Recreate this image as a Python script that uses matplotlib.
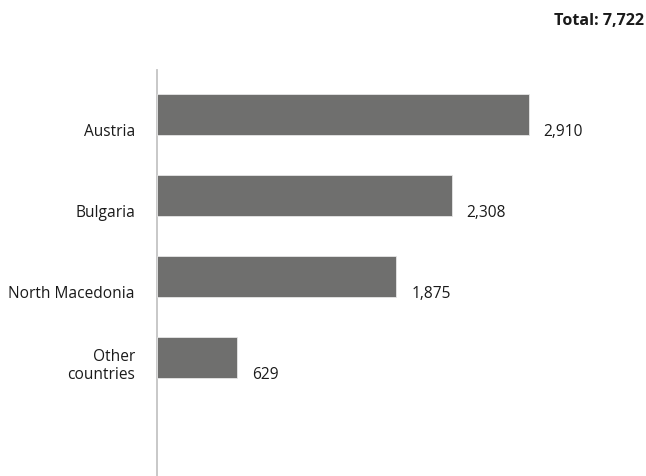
import matplotlib
matplotlib.use("Agg")
import matplotlib.pyplot as plt

categories = ["Austria", "Bulgaria", "North Macedonia", "Other\ncountries"]
values = [2910, 2308, 1875, 629]
value_labels = ["2,910", "2,308", "1,875", "629"]
total_label = "Total: 7,722"

plt.rcParams['font.family'] = ['Open Sans', 'DejaVu Sans']

W, H = 646, 477
fig = plt.figure(figsize=(W / 100, H / 100), dpi=100)
ax = fig.add_axes([157 / W, 0, (W - 157) / W, (477 - 71) / H])

bar_h = 0.51
ypos = list(range(len(categories)))
ax.barh(ypos, values, height=bar_h, color="#6f6f6e", edgecolor="#e6e6e6",
        linewidth=0.6, zorder=3)
ax.set_xlim(0, 3830)
ax.set_ylim(4.463, -0.549)

for s in ["top", "right", "bottom"]:
    ax.spines[s].set_visible(False)
ax.spines["left"].set_color("#c4c4c4")
ax.spines["left"].set_linewidth(1.3)
ax.set_xticks([])
ax.set_yticks([])

px = 0.72  # points per pixel
fs = 11.2
for y, cat, v, vl in zip(ypos, categories, values, value_labels):
    ax.annotate(cat, xy=(0, y + bar_h / 2), xytext=(-22 * px, 0),
                textcoords="offset points", ha="right", va="baseline",
                fontsize=fs, color="#1a1a1a", linespacing=1.15,
                annotation_clip=False)
    ax.annotate(vl, xy=(v, y + bar_h / 2), xytext=(15 * px, 0),
                textcoords="offset points", ha="left", va="baseline",
                fontsize=fs, color="#1a1a1a", annotation_clip=False)

fig.text(644 / W, 1 - 25 / H, total_label, ha="right", va="baseline",
         fontsize=11.6, fontweight="bold", color="#1a1a1a")

fig.savefig("out.png", dpi=100)
